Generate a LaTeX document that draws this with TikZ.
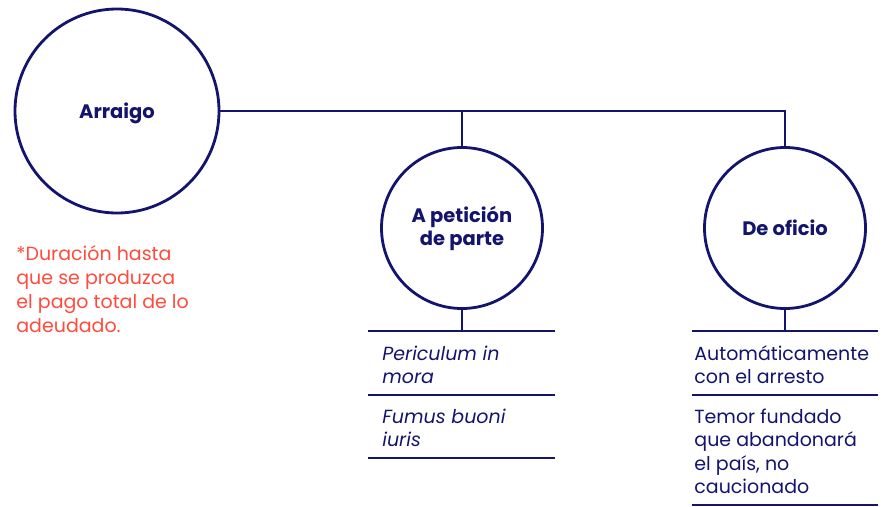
\documentclass[tikz,border=0pt]{standalone}
\usepackage{fontspec}
\setmainfont{Poppins}
\usetikzlibrary{calc}

\definecolor{navy}{HTML}{14146E}
\definecolor{coral}{HTML}{FF4B3E}

\begin{document}
\begin{tikzpicture}[x=1pt, y=-1pt, line width=2.8pt, color=navy,
    topic/.style={circle, draw, inner sep=0pt, align=center, font=\bfseries\fontsize{19.5}{23}\selectfont},
    item/.style={anchor=base west, align=left, inner sep=0pt, font=\fontsize{19}{23.5}\selectfont}]
    \useasboundingbox (0,0) rectangle (883,506);

    \node[topic, minimum size=204pt, text depth=0pt] (arraigo) at (117,111) {Arraigo};

    \node[topic, minimum size=161pt] (peticion) at (462,228) {A petición\\de parte};

    \node[topic, minimum size=161pt] (oficio) at (785,228) {De oficio};

    % base = ultima linea
    \node[item, text=coral, font=\fontsize{19}{24}\selectfont] (nota) at (15,332) {*Duración hasta\\que se produzca\\el pago total de lo\\adeudado.};

    % barras
    \coordinate (pbar) at (368,331);
    \coordinate (obar) at (692,331);
    \draw (pbar) -- ++(187,0);
    \draw ($(pbar) + (0,64)$) -- ++(187,0);
    \draw ($(pbar) + (0,127)$) -- ++(187,0);
    \draw (obar) -- ++(186,0);
    \draw ($(obar) + (0,64)$) -- ++(186,0);
    \draw ($(obar) + (0,174)$) -- ++(186,0);

    \node[item, font=\itshape\fontsize{19}{23.5}\selectfont] (periculum) at (381,383.5) {Periculum in\\mora};
    \node[item, font=\itshape\fontsize{19}{23.5}\selectfont] (fumus) at (381,446.5) {Fumus buoni\\iuris};
    \node[item] (arresto) at (693,383.5) {Automáticamente\\con el arresto};
    \node[item] (temor) at (693,493.5) {Temor fundado\\que abandonará\\el país, no\\caucionado};

    \draw (arraigo.east) -- (oficio.north |- arraigo.east) -- (oficio.north);
    \draw (peticion.north |- arraigo.east) -- (peticion.north);
    \draw (peticion.south) -- (peticion.south |- pbar);
    \draw (oficio.south) -- (oficio.south |- obar);

\end{tikzpicture}
\end{document}
